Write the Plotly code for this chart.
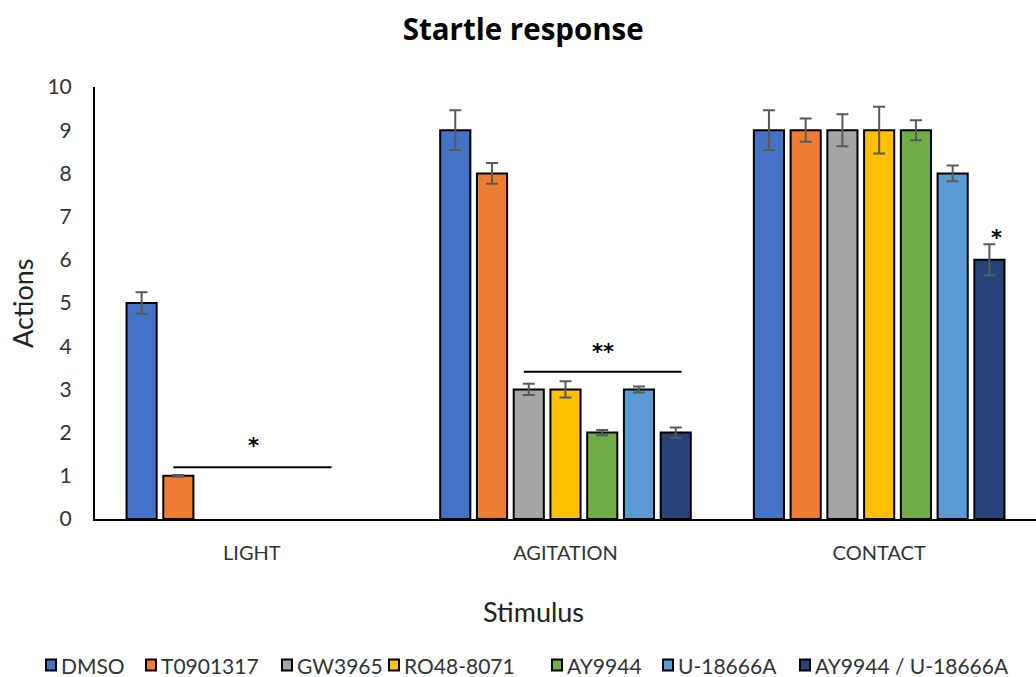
import plotly.graph_objects as go

# Stimulus categories and treatment series
stimuli = ["LIGHT", "AGITATION", "CONTACT"]
treatments = ["DMSO", "T0901317", "GW3965", "RO48-8071", "AY9944", "U-18666A", "AY9944 / U-18666A"]

dmso = [5, 9, 9]
t0901317 = [1, 8, 9]
gw3965 = [0, 3, 9]
ro48_8071 = [0, 3, 9]
ay9944 = [0, 2, 9]
u18666a = [0, 3, 8]
ay_u_combo = [0, 2, 6]

dmso_err = [0.25, 0.46, 0.46]
t0901317_err = [0.02, 0.24, 0.27]
gw3965_err = [None, 0.13, 0.37]
ro48_8071_err = [None, 0.19, 0.54]
ay9944_err = [None, 0.06, 0.23]
u18666a_err = [None, 0.07, 0.18]
ay_u_combo_err = [None, 0.12, 0.36]

series_values = [dmso, t0901317, gw3965, ro48_8071, ay9944, u18666a, ay_u_combo]
series_errors = [dmso_err, t0901317_err, gw3965_err, ro48_8071_err, ay9944_err, u18666a_err, ay_u_combo_err]

colors = ["#4472C4", "#ED7D31", "#A5A5A5", "#FFC000", "#70AD47", "#5B9BD5", "#264478"]

# Significance markers: (x start, x end, y) for bracket lines, (x, y, text) for stars
sig_lines = [(-0.25, 0.254, 1.2), (0.867, 1.37, 3.41)]
sig_stars = [(0.005, 1.76, "*"), (1.12, 3.93, "**"), (2.375, 6.57, "*")]

FONT = "Lato"
STAR_FONT = "DejaVu Sans"

fig = go.Figure()
for name, vals, errs, col in zip(treatments, series_values, series_errors, colors):
    # zero-height bars have nothing to show; skipping them also avoids empty error caps
    keep = [i for i, v in enumerate(vals) if v != 0]
    fig.add_trace(go.Bar(
        name=name,
        x=[stimuli[i] for i in keep],
        y=[vals[i] for i in keep],
        marker=dict(color=col, line=dict(color="black", width=2)),
        error_y=dict(type="data", array=[errs[i] for i in keep], visible=True,
                     color="#595959", thickness=2, width=6),
        showlegend=False,
    ))

# pixel -> paper helpers for the plot area (95..1036 horizontally, 87..519 vertically)
L, R, T, B = 95, 1036, 87, 519
UNIT_PX = (B - T) / 10.0


def px(xp):
    return (xp - L) / (R - L)


def py(yp):
    return (B - yp) / (B - T)


shapes = []
for x0, x1, y in sig_lines:
    shapes.append(dict(type="line", xref="x", yref="y", x0=x0, x1=x1, y0=y, y1=y,
                       line=dict(color="black", width=2)))

annotations = []
# the asterisk glyph sits high in its text box, so shift the box down a little
star_shift = 3 / UNIT_PX
for x, y, t in sig_stars:
    annotations.append(dict(xref="x", yref="y", x=x, y=y - star_shift, text="<b>" + t + "</b>",
                            showarrow=False,
                            font=dict(family=STAR_FONT, size=21, color="black"),
                            yanchor="middle"))

annotations.append(dict(xref="paper", yref="paper", x=px(533), y=py(611), text="Stimulus",
                        showarrow=False, font=dict(family=FONT, size=27, color="#222222"),
                        xanchor="center", yanchor="middle"))
annotations.append(dict(xref="paper", yref="paper", x=px(22), y=py(303), text="Actions",
                        showarrow=False, textangle=-90,
                        font=dict(family=FONT, size=27, color="#222222"),
                        xanchor="center", yanchor="middle"))

# Legend row drawn beneath the axis title
legend_x = [46, 146, 282, 389, 552, 663, 800]
legend_y = 665
for name, col, lx in zip(treatments, colors, legend_x):
    shapes.append(dict(type="rect", xref="paper", yref="paper",
                       x0=px(lx), x1=px(lx + 10), y0=py(legend_y + 5.5), y1=py(legend_y - 5.5),
                       fillcolor=col, line=dict(color="black", width=2)))
    annotations.append(dict(xref="paper", yref="paper", x=px(lx + 13), y=py(legend_y),
                            text=name, showarrow=False, xanchor="left", yanchor="middle",
                            font=dict(family=FONT, size=21, color="#333333")))

fig.update_layout(
    width=1036, height=677,
    margin=dict(l=L, r=1036 - R, t=T, b=677 - B),
    paper_bgcolor="white", plot_bgcolor="white",
    barmode="group", bargap=0.18, bargroupgap=0.18,
    title=dict(text="<b>Startle response</b>", x=0.505, xref="container", y=1 - 30 / 677,
               yref="container", xanchor="center", yanchor="middle",
               font=dict(family="Open Sans", size=29.5, color="black")),
    xaxis=dict(range=[-0.5, 2.5], showline=True, linecolor="black", linewidth=2,
               ticks="", showgrid=False, zeroline=False, ticklabelstandoff=15,
               tickfont=dict(family=FONT, size=20, color="#333333")),
    yaxis=dict(range=[0, 10], dtick=1, showline=True, linecolor="black", linewidth=2,
               ticks="", showgrid=False, zeroline=False, ticklabelstandoff=17,
               tickfont=dict(family=FONT, size=21, color="#333333")),
    shapes=shapes, annotations=annotations,
    showlegend=False,
)

fig.write_html("out.html")
